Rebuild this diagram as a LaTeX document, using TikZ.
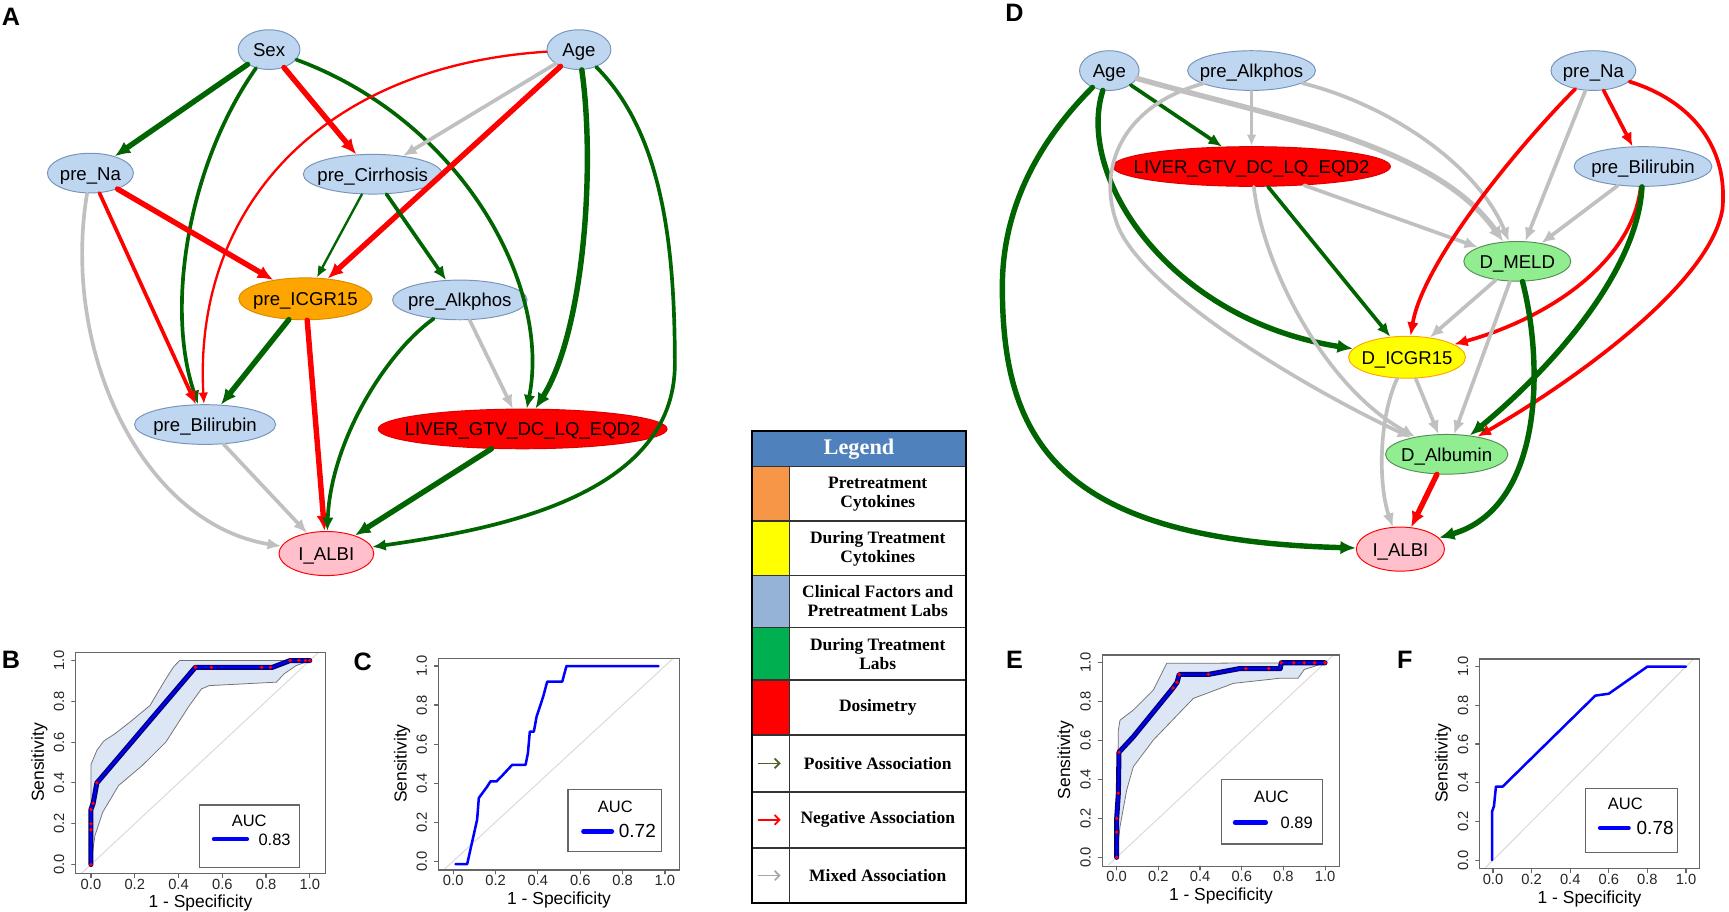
\PassOptionsToPackage{dvipsnames,svgnames,x11names}{xcolor}
\documentclass[tikz,border=0pt]{standalone}
\usepackage{fontspec}
\setmainfont{Liberation Sans}
\newfontfamily\legfont{Liberation Serif}
\usepackage{tikz}
\usetikzlibrary{shapes.geometric,arrows.meta}

\definecolor{varblue}{RGB}{190,214,240}
\definecolor{varline}{RGB}{120,148,186}
\definecolor{legblue}{RGB}{79,129,189}
\definecolor{legorange}{RGB}{247,150,70}
\definecolor{leglight}{RGB}{149,179,215}
\definecolor{leggreen}{RGB}{0,176,80}
\definecolor{legolive}{RGB}{79,98,40}
\definecolor{legmix}{RGB}{166,166,166}
\definecolor{ciblue}{RGB}{220,230,245}

% ROC frame: x of 0, x of 1, y of 0, y of 1 (picture units), name prefix
\newcommand{\rocframe}[5]{%
  \pgfmathsetmacro{\rfl}{#1-0.07*(#2-#1)}%
  \pgfmathsetmacro{\rfr}{#1+1.07*(#2-#1)}%
  \pgfmathsetmacro{\rfb}{#3-0.045*(#4-#3)}%
  \pgfmathsetmacro{\rft}{#3+1.04*(#4-#3)}%
  \pgfmathsetmacro{\rfmx}{(#1+#2)/2}%
  \pgfmathsetmacro{\rfmy}{(#3+#4)/2}%
  \draw[rocaxis] (\rfl,\rfb) rectangle (\rfr,\rft);
  \foreach \tk [count=\ti] in {0.0,0.2,0.4,0.6,0.8,1.0} {
    \pgfmathsetmacro{\rfx}{#1+\tk*(#2-#1)}
    \pgfmathsetmacro{\rfy}{#3+\tk*(#4-#3)}
    \draw[rocaxis] (\rfx,\rfb) -- (\rfx,\rfb+3.5);
    \node[ticklab] (#5x\ti) at (\rfx,\rfb+9.5) {\tk};
    \draw[rocaxis] (\rfl,\rfy) -- (\rfl-3.5,\rfy);
    \node[ticklab, rotate=90] (#5y\ti) at (\rfl-15,\rfy) {\tk};
  }
  \node[axlab] (#5xl) at (\rfmx,\rfb+27) {1 - Specificity};
  \node[axlab, rotate=90] (#5yl) at (\rfl-33,\rfmy) {Sensitivity};
}

\begin{document}
\begin{tikzpicture}[x=0.02cm, y=-0.02cm, line cap=round,
    var/.style={ellipse, draw=varline, fill=varblue, line width=0.5pt, inner xsep=-2cm, inner ysep=0pt,
      minimum height=0.72cm, text height=0.72em, text depth=0pt, font=\fontsize{9.6}{11}\selectfont},
    epos/.style={draw=DarkGreen}, eneg/.style={draw=Red}, emix/.style={draw=Silver},
    wthin/.style={line width=1.2pt, -{Latex[length=6pt, width=5pt]}},
    wmed/.style={line width=1.9pt, -{Latex[length=7pt, width=6pt]}},
    wthick/.style={line width=2.8pt, -{Latex[length=8pt, width=7pt]}},
    panel/.style={font=\fontsize{13}{14}\selectfont\bfseries, inner sep=0pt},
    legtext/.style={font=\legfont\bfseries\fontsize{9}{9.8}\selectfont, align=center, inner sep=0pt},
    leghead/.style={font=\legfont\bfseries\fontsize{11.5}{12}\selectfont, text=white, inner sep=0pt},
    legrule/.style={draw=black!80, line width=0.9pt},
    legarrow/.style={line width=0.9pt, -{Straight Barb[length=2.5pt, width=5pt]}},
    rocaxis/.style={draw=black!60, line width=0.6pt},
    ticklab/.style={font=\fontsize{7.6}{8}\selectfont, text=black!85, inner sep=0pt},
    axlab/.style={font=\fontsize{9}{10}\selectfont, inner sep=0pt},
    ciband/.style={fill=ciblue, draw=black!55, line width=0.4pt},
    rocdiag/.style={draw=black!15, line width=0.5pt},
    rocci/.style={draw=Navy, line width=2.6pt, line join=round, postaction={draw=Blue, line width=0.9pt}},
    roccurve/.style={draw=Blue, line width=1.3pt, line join=round},
    aucbox/.style={draw=black!60, line width=0.7pt},
    auctext/.style={font=\fontsize{8.5}{9}\selectfont, inner sep=0pt},
    aucbig/.style={font=\fontsize{9.8}{11}\selectfont, inner sep=0pt},
    aucline/.style={draw=Blue, line width=2.2pt}]
    \useasboundingbox (0,0) rectangle (1568,827);

    % Panel A - pretreatment network
    \node[panel] (laba) at (10,15) {A};
    \node[var, minimum width=1.12cm] (sex) at (244,45) {Sex};
    \node[var, minimum width=1.16cm] (age) at (525,45) {Age};
    \node[var, minimum width=1.56cm] (na) at (82,157) {pre\_Na};
    \node[var, minimum width=2.52cm] (cirr) at (338,158) {pre\_Cirrhosis};
    \node[var, fill=Orange, draw=Orange!85!black, minimum width=2.42cm, minimum height=0.76cm] (icg) at (277,271) {pre\_ICGR15};
    \node[var, minimum width=2.44cm] (alk) at (417,272) {pre\_Alkphos};
    \node[var, minimum width=2.56cm] (bili) at (186,385) {pre\_Bilirubin};
    \node[var, fill=Red, draw=Red!85!black, minimum width=5.24cm] (liver) at (474,389) {LIVER\_GTV\_DC\_LQ\_EQD2};
    \node[var, fill=Pink, draw=Red, minimum width=1.72cm, minimum height=0.8cm] (albi) at (296,502) {I\_ALBI};

    \draw[epos, wthick] (sex) -- (na);
    \draw[epos, wmed] (sex) .. controls (170,150) and (150,280) .. (bili);
    \draw[eneg, wthick] (sex) -- (cirr);
    \draw[epos, wmed] (sex) .. controls (420,110) and (500,260) .. (liver);
    \draw[eneg, wthin] (age) .. controls (290,60) and (175,190) .. (bili);
    \draw[emix, wmed] (age) -- (cirr);
    \draw[eneg, wthick] (age) -- (icg);
    \draw[epos, wthick] (age) .. controls (540,150) and (530,300) .. (liver);
    \draw[epos, wmed] (age) .. controls (600,120) and (612,220) .. (612,330) .. controls (612,450) and (450,480) .. (albi);
    \draw[eneg, wthick] (na) -- (icg);
    \draw[eneg, wmed] (na) -- (bili);
    \draw[emix, wmed] (na) .. controls (55,320) and (130,475) .. (albi);
    \draw[epos, wthin] (cirr) -- (icg);
    \draw[epos, wmed] (cirr) -- (alk);
    \draw[epos, wthick] (icg) -- (bili);
    \draw[eneg, wthick] (icg) -- (albi);
    \draw[epos, wmed] (alk) .. controls (350,320) and (300,400) .. (albi);
    \draw[emix, wmed] (alk) -- (liver);
    \draw[emix, wmed] (bili) -- (albi);
    \draw[epos, wthick] (liver) -- (albi);

    % Panel D - during treatment network
    \node[panel] (labd) at (920,12) {D};
    \node[var, minimum width=1.08cm] (aged) at (1006,64) {Age};
    \node[var, minimum width=2.32cm] (alkd) at (1135,64) {pre\_Alkphos};
    \node[var, minimum width=1.54cm] (nad) at (1445,64) {pre\_Na};
    \node[var, fill=Red, draw=Red!85!black, minimum width=5.04cm] (liverd) at (1135,151) {LIVER\_GTV\_DC\_LQ\_EQD2};
    \node[var, minimum width=2.5cm] (bilid) at (1490,151) {pre\_Bilirubin};
    \node[var, fill=LightGreen, draw=LightGreen!60!black, minimum width=1.94cm] (meld) at (1376,237) {D\_MELD};
    \node[var, fill=Yellow, draw=Orange, minimum width=2.12cm, minimum height=0.76cm] (icgd) at (1276,324) {D\_ICGR15};
    \node[var, fill=LightGreen, draw=LightGreen!60!black, minimum width=2.22cm] (albd) at (1312,412) {D\_Albumin};
    \node[var, fill=Pink, draw=Red, minimum width=1.6cm, minimum height=0.8cm] (albid) at (1270,498) {I\_ALBI};

    \draw[epos, wmed] (aged) -- (liverd);
    \draw[epos, wthick] (aged) .. controls (975,160) and (1060,290) .. (icgd);
    \draw[epos, wthick] (aged) .. controls (950,120) and (909,180) .. (909,260) .. controls (909,400) and (960,490) .. (albid);
    \draw[emix, wthick] (aged) .. controls (1150,105) and (1300,130) .. (meld);
    \draw[emix, wthin] (alkd) -- (liverd);
    \draw[emix, wmed] (alkd) .. controls (1260,95) and (1340,150) .. (meld);
    \draw[emix, wmed] (alkd) .. controls (1020,95) and (995,150) .. (1012,200) .. controls (1030,260) and (1180,350) .. (albd);
    \draw[epos, wmed] (liverd) -- (icgd);
    \draw[emix, wmed] (liverd) -- (meld);
    \draw[emix, wmed] (liverd) .. controls (1145,240) and (1200,350) .. (albd);
    \draw[eneg, wmed] (nad) .. controls (1370,140) and (1290,240) .. (icgd);
    \draw[eneg, wmed] (nad) -- (bilid);
    \draw[emix, wmed] (nad) -- (meld);
    \draw[eneg, wmed] (nad) .. controls (1530,90) and (1568,130) .. (1562,190) .. controls (1550,260) and (1420,350) .. (albd);
    \draw[emix, wmed] (bilid) -- (meld);
    \draw[eneg, wmed] (bilid) .. controls (1480,240) and (1400,290) .. (icgd);
    \draw[epos, wthick] (bilid) .. controls (1485,250) and (1400,340) .. (albd);
    \draw[emix, wmed] (meld) -- (icgd);
    \draw[emix, wmed] (meld) -- (albd);
    \draw[epos, wthick] (meld) .. controls (1400,330) and (1400,460) .. (albid);
    \draw[emix, wmed] (icgd) -- (albd);
    \draw[emix, wmed] (icgd) .. controls (1250,380) and (1250,440) .. (albid);
    \draw[eneg, wthick] (albd) -- (albid);

    % Legend
    \fill[legblue] (682,391) rectangle (876,423);
    \node[leghead] (leg0) at (779,407) {Legend};
    \foreach \i/\ya/\yb/\col/\txt in {1/423/472.6/legorange/{Pretreatment\\Cytokines},
        2/472.6/522/Yellow/{During Treatment\\Cytokines},
        3/522/569/leglight/{Clinical Factors and\\Pretreatment Labs},
        4/569/616.6/leggreen/{During Treatment\\Labs},
        5/616.6/666.6/Red/Dosimetry} {
      \fill[\col] (682,\ya) rectangle (716,\yb);
      \node[legtext] (leg\i) at (796,{(\ya+\yb)/2}) {\txt};
    }
    \foreach \i/\ya/\yb/\col/\txt in {6/666.6/718/legolive/Positive Association,
        7/718/769/Red/Negative Association,
        8/769/819/legmix/Mixed Association} {
      \coordinate (la\i) at (688,{(\ya+\yb)/2});
      \coordinate (lb\i) at (708,{(\ya+\yb)/2});
      \draw[legarrow, draw=\col] (la\i) -- (lb\i);
      \node[legtext] (leg\i) at (796,{(\ya+\yb)/2}) {\txt};
    }
    \foreach \yy in {423,472.6,522,569,616.6,666.6,718,769}
      \draw[legrule] (682,\yy) -- (876,\yy);
    \draw[legrule] (716,423) -- (716,819);
    \draw[black, line width=1.1pt] (682,391) rectangle (876,819);

    % B - ROC with CI
    \node[panel] (labb) at (10,598) {B};
    \begin{scope}[shift={(82.5,784)}, x=3.97cm, y=3.70cm]
      \filldraw[ciband] (0,0) -- (0,0.49) -- (0.027,0.56) -- (0.058,0.605) -- (0.108,0.64) -- (0.18,0.70)
        -- (0.27,0.78) -- (0.342,0.91) -- (0.378,0.97) -- (0.405,1) -- (1,1) -- (0.937,0.975) -- (0.883,0.935)
        -- (0.847,0.894) -- (0.54,0.877) -- (0.505,0.861) -- (0.45,0.78) -- (0.342,0.6) -- (0.234,0.485)
        -- (0.126,0.387) -- (0.054,0.257) -- (0.018,0.142) -- cycle;
      \draw[rocdiag] (-0.04,-0.04) -- (1.04,1.04);
      \draw[rocci] (0,0) -- (0,0.27) -- (0.01,0.30) -- (0.027,0.40) -- (0.477,0.967) -- (0.83,0.967) -- (0.91,1) -- (1,1);
      \foreach \px/\py in {0/0,0/0.17,0/0.2,0/0.27,0.01/0.3,0.027/0.4,0.477/0.967,0.55/0.967,0.78/0.967,0.82/0.967,0.91/1,0.95/1,0.98/1,1/1}
        \fill[Red] (\px,\py) circle (1pt);
    \end{scope}
    \rocframe{82.5}{281}{784}{599}{b}
    \draw[aucbox] (181,730) rectangle (271.5,787);
    \node[auctext] (aucb) at (226,744) {AUC};
    \draw[aucline] (194,761) -- (224,761);
    \node[auctext] (valb) at (249,762) {0.83};

    % C - ROC
    \node[panel] (labc) at (329,600) {C};
    \begin{scope}[shift={(411,781)}, x=3.84cm, y=3.54cm]
      \draw[rocdiag] (-0.04,-0.04) -- (1.04,1.04);
      \draw[roccurve] (0.011,-0.015) -- (0.066,-0.015) -- (0.113,0.213) -- (0.121,0.324) -- (0.161,0.383) -- (0.176,0.409)
        -- (0.205,0.409) -- (0.231,0.438) -- (0.279,0.494) -- (0.342,0.494) -- (0.353,0.554) -- (0.362,0.664)
        -- (0.381,0.664) -- (0.394,0.741) -- (0.425,0.843) -- (0.444,0.92) -- (0.515,0.92) -- (0.535,1) -- (0.97,1);
    \end{scope}
    \rocframe{411}{603}{781}{604}{c}
    \draw[aucbox] (515,716) rectangle (600,772);
    \node[auctext] (aucc) at (558,732) {AUC};
    \draw[aucline] (529,754) -- (555,754);
    \node[aucbig] (valc) at (578,754) {0.72};

    % E - ROC with CI
    \node[panel] (labe) at (920,598) {E};
    \begin{scope}[shift={(1012.7,777.5)}, x=3.78cm, y=3.53cm]
      \filldraw[ciband] (0,0) -- (0.008,0.654) -- (0.016,0.705) -- (0.08,0.757) -- (0.176,0.86) -- (0.24,0.997)
        -- (1,1) -- (0.9,0.965) -- (0.87,0.92) -- (0.78,0.92) -- (0.56,0.894) -- (0.368,0.817) -- (0.176,0.603)
        -- (0.08,0.466) -- (0.048,0.346) -- (0.016,0.158) -- cycle;
      \draw[rocdiag] (-0.04,-0.04) -- (1.04,1.04);
      \draw[rocci] (0,0) -- (0,0.2) -- (0.008,0.33) -- (0.011,0.54) -- (0.08,0.62) -- (0.27,0.87) -- (0.29,0.9)
        -- (0.3,0.94) -- (0.44,0.94) -- (0.59,0.97) -- (0.785,0.97) -- (0.79,1) -- (1,1);
      \foreach \px/\py in {0/0,0/0.13,0/0.2,0.008/0.33,0.011/0.54,0.27/0.87,0.29/0.9,0.3/0.94,0.44/0.94,0.62/0.97,0.73/0.97,0.79/1,0.85/1,0.9/1,0.95/1,1/1}
        \fill[Red] (\px,\py) circle (1pt);
    \end{scope}
    \rocframe{1012.7}{1201.7}{777.5}{601}{e}
    \draw[aucbox] (1108,707) rectangle (1199.5,765.5);
    \node[auctext] (auce) at (1153,722.5) {AUC};
    \draw[aucline] (1120,746) -- (1148,746);
    \node[auctext] (vale) at (1176,746) {0.89};

    % F - ROC
    \node[panel] (labf) at (1274,598) {F};
    \begin{scope}[shift={(1354,780)}, x=3.5cm, y=3.51cm]
      \draw[rocdiag] (-0.04,-0.04) -- (1.04,1.04);
      \draw[roccurve] (-0.005,0) -- (-0.005,0.25) -- (0.005,0.28) -- (0.015,0.38) -- (0.05,0.38) -- (0.53,0.85)
        -- (0.6,0.86) -- (0.8,1) -- (1,1);
    \end{scope}
    \rocframe{1354}{1529}{780}{604.6}{f}
    \draw[aucbox] (1438,715) rectangle (1521,773);
    \node[auctext] (aucf) at (1474,729) {AUC};
    \draw[aucline] (1451,751) -- (1477,751);
    \node[aucbig] (valf) at (1501,751) {0.78};
\end{tikzpicture}
\end{document}
